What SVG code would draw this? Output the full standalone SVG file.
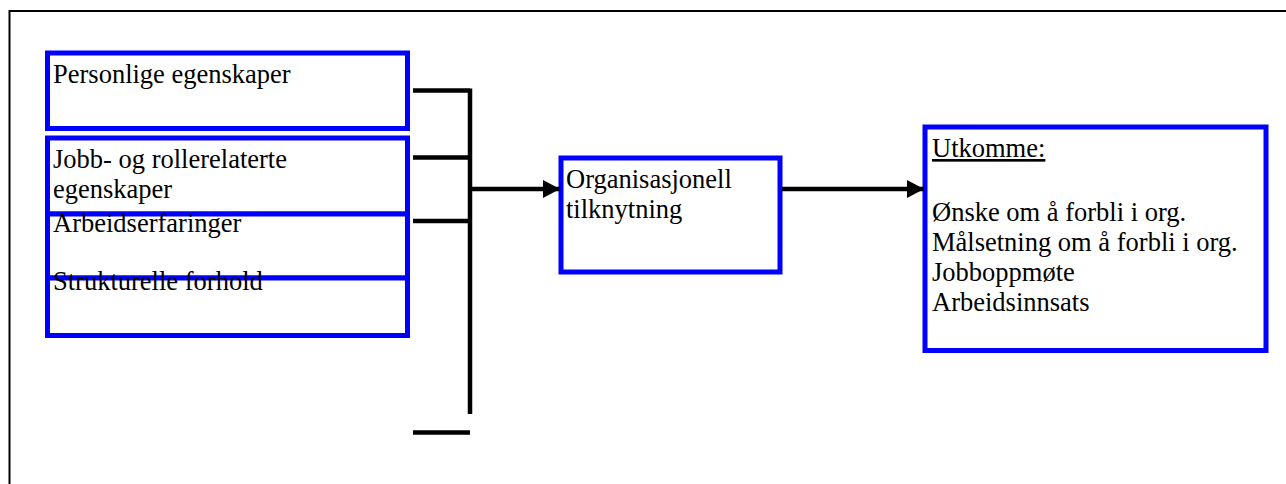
<svg xmlns="http://www.w3.org/2000/svg" width="1286" height="484" viewBox="0 0 1286 484">
<style>
.box{fill:#fff;stroke:#0000ff;stroke-width:5}
.t{font-family:"Liberation Serif","Times New Roman",serif;font-size:26.5px;fill:#000}
.c{stroke:#000;stroke-width:4.5;fill:none}
.frame{stroke:#000;stroke-width:2;fill:none}
</style>
<defs>
<marker id="ah" markerWidth="17" markerHeight="18" refX="17" refY="9" orient="auto" markerUnits="userSpaceOnUse">
<polygon points="0,0 17,9 0,18" fill="#000"/>
</marker>
</defs>
<rect width="1286" height="484" fill="#fff"/>
<path class="frame" d="M9.5,484 V11 H1286"/>
<g id="n1">
<rect class="box" x="47.5" y="53" width="360" height="75.5"/>
<text class="t" x="53" y="83">Personlige egenskaper</text>
</g>
<g id="n2">
<rect class="box" x="47.5" y="138" width="360" height="76"/>
<text class="t" x="53" y="168">Jobb- og rollerelaterte</text>
<text class="t" x="53" y="198">egenskaper</text>
</g>
<g id="n3">
<rect class="box" x="47.5" y="214" width="360" height="64"/>
<text class="t" x="53" y="231.5">Arbeidserfaringer</text>
</g>
<g id="n4">
<rect class="box" x="47.5" y="278" width="360" height="57.5"/>
<text class="t" x="53" y="290">Strukturelle forhold</text>
</g>
<g id="n5">
<rect class="box" x="561" y="158" width="219" height="114"/>
<text class="t" x="566" y="188">Organisasjonell</text>
<text class="t" x="566" y="218">tilknytning</text>
</g>
<g id="n6">
<rect class="box" x="925" y="127" width="341" height="223.5"/>
<text class="t" x="932" y="157" text-decoration="underline">Utkomme:</text>
<text class="t" x="932" y="220.5">Ønske om å forbli i org.</text>
<text class="t" x="932" y="250.5">Målsetning om å forbli i org.</text>
<text class="t" x="932" y="281">Jobboppmøte</text>
<text class="t" x="932" y="311">Arbeidsinnsats</text>
</g>
<g id="connectors">
<path class="c" d="M413,90.5 H470 M413,157.5 H470 M413,221 H470 M470,88.5 V414 M413,432.5 H470"/>
<path class="c" d="M470,189 H560" marker-end="url(#ah)"/>
<path class="c" d="M782,189 H924" marker-end="url(#ah)"/>
</g>
</svg>
